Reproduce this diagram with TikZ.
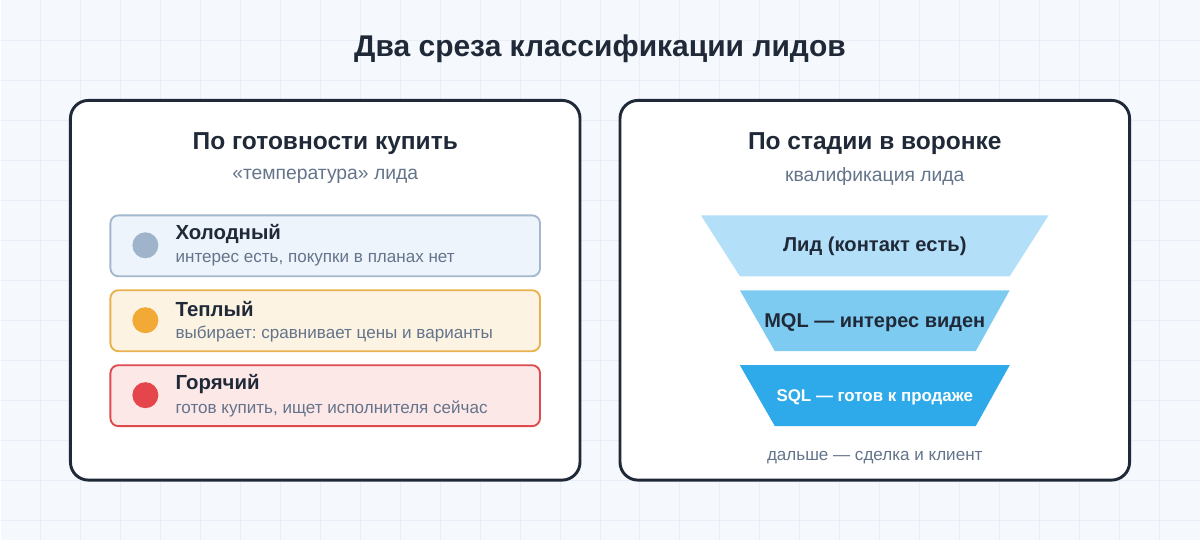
\documentclass[tikz,border=0pt]{standalone}
\usepackage{fontspec}
\setmainfont{Liberation Sans}
\usetikzlibrary{positioning}
\frenchspacing

\definecolor{bgcol}{HTML}{F5F8FD}
\definecolor{gridcol}{HTML}{E8EDF7}
\definecolor{ink}{HTML}{1F2937}
\definecolor{muted}{HTML}{64748B}
\definecolor{coldfill}{HTML}{EEF4FB}
\definecolor{colddraw}{HTML}{A3B7CD}
\definecolor{colddot}{HTML}{9FB4CA}
\definecolor{warmfill}{HTML}{FCF3E2}
\definecolor{warmdraw}{HTML}{E8B24E}
\definecolor{warmdot}{HTML}{F3A935}
\definecolor{hotfill}{HTML}{FDE8E8}
\definecolor{hotdraw}{HTML}{E04A4D}
\definecolor{hotdot}{HTML}{E5464B}
\definecolor{stageone}{HTML}{B3E0F8}
\definecolor{stagetwo}{HTML}{7ECBF2}
\definecolor{stagethree}{HTML}{2EAAEA}

\tikzset{
  gridline/.style={gridcol, line width=0.75pt},
  panel/.style={draw=ink, fill=white, line width=2.2pt, rounded corners=13.5pt},
  rowbox/.style={line width=1.4pt, rounded corners=6pt},
  dot/.style={circle, minimum size=19.5pt, inner sep=0pt},
  heading/.style={font=\bfseries\fontsize{18.4pt}{21pt}\selectfont, text=ink},
  subhead/.style={font=\fontsize{14.5pt}{17pt}\selectfont, text=muted},
  rowtitle/.style={font=\bfseries\fontsize{15.3pt}{18pt}\selectfont, text=ink, anchor=west, inner sep=0pt},
  rowtext/.style={font=\fontsize{12.8pt}{15pt}\selectfont, text=muted, anchor=west, inner sep=0pt},
  stagetext/.style={font=\bfseries\fontsize{15.1pt}{18pt}\selectfont, text=ink}
}

\begin{document}
\begin{tikzpicture}[x=0.75pt, y=-0.75pt]
  % background and grid
  \fill[bgcol] (0,0) rectangle (1200,540);
  \foreach \gx in {40,80,...,1160}
    \draw[gridline] (\gx,0) -- (\gx,540);
  \foreach \gy in {40,80,...,520}
    \draw[gridline] (0,\gy) -- (1200,\gy);
  \useasboundingbox (0,0) rectangle (1200,540);

  \node[font=\bfseries\fontsize{22.5pt}{26pt}\selectfont, text=ink] (title) at (600,48) {Два среза классификации лидов};

  % left panel: readiness
  \draw[panel] (70,100) rectangle (580,480);
  \node[heading] (readyhead) at (325,143) {По готовности купить};
  \node[subhead] (readysub) at (325,176) {«температура» лида};

  \draw[rowbox, fill=coldfill, draw=colddraw] (110,215) rectangle (540,276);
  \node[dot, fill=colddot] (colddot) at (145,245) {};
  \node[rowtitle] (coldtitle) at (175,234) {Холодный};
  \node[rowtext] (coldtext) at (175,259) {интерес есть, покупки в планах нет};

  \draw[rowbox, fill=warmfill, draw=warmdraw] (110,290) rectangle (540,351);
  \node[dot, fill=warmdot] (warmdot) at (145,320) {};
  \node[rowtitle] (warmtitle) at (175,309) {Теплый};
  \node[rowtext] (warmtext) at (175,334) {выбирает: сравнивает цены и варианты};

  \draw[rowbox, fill=hotfill, draw=hotdraw] (110,365) rectangle (540,426);
  \node[dot, fill=hotdot] (hotdot) at (145,395) {};
  \node[rowtitle] (hottitle) at (175,384) {Горячий};
  \node[rowtext] (hottext) at (175,409) {готов купить, ищет исполнителя сейчас};

  % right panel: funnel
  \draw[panel] (620,100) rectangle (1130,480);
  \node[heading] (stagehead) at (875,143) {По стадии в воронке};
  \node[subhead] (stagesub) at (875,176) {квалификация лида};

  \fill[stageone] (701,215) -- (1049,215) -- (1010,276) -- (740,276) -- cycle;
  \node[stagetext] (lead) at (875,246) {Лид (контакт есть)};

  \fill[stagetwo] (740,290) -- (1010,290) -- (976,351) -- (775,351) -- cycle;
  \node[stagetext, font=\bfseries\fontsize{15pt}{18pt}\selectfont] (mql) at (875,322) {MQL — интерес виден};

  \fill[stagethree] (740,365) -- (1010,365) -- (976,426) -- (775,426) -- cycle;
  \node[stagetext, text=white, font=\bfseries\fontsize{12.7pt}{15pt}\selectfont] (sql) at (875,397) {SQL — готов к продаже};

  \node[rowtext, anchor=center] (after) at (875,457) {дальше — сделка и клиент};
\end{tikzpicture}
\end{document}
